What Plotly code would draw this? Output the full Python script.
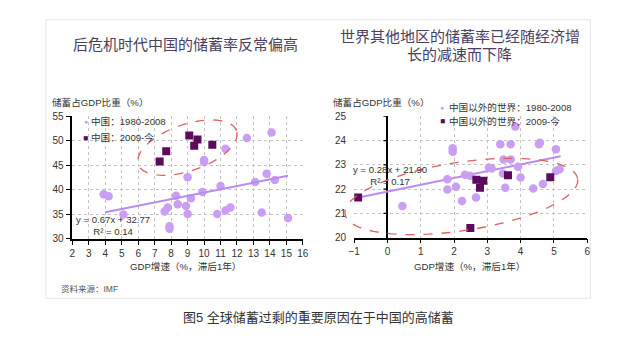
import numpy as np
import plotly.graph_objects as go

W, H = 620, 348

# ---------------- data ----------------
# Left: China
cn_old_x = [3.9, 4.2, 5.1, 7.6, 7.8, 7.9, 7.9, 8.3, 8.4, 8.9, 9.0, 9.0, 9.2, 9.9, 10.0, 10.0,
            10.8, 11.0, 11.3, 11.3, 11.6, 12.6, 13.1, 13.5, 13.8, 14.1, 14.3, 15.1]
cn_old_y = [39.1, 38.7, 35.0, 35.6, 36.4, 32.6, 32.1, 38.8, 37.1, 36.7, 35.1, 42.6, 38.3, 39.6, 46.1, 45.7,
            35.1, 40.8, 48.4, 35.8, 36.4, 50.6, 41.6, 35.4, 43.3, 51.7, 42.0, 34.3]
cn_new_x = [7.3, 7.7, 9.1, 9.6, 9.4, 10.5]
cn_new_y = [45.8, 47.9, 51.1, 50.3, 49.0, 49.2]
cn_slope, cn_intercept, cn_r2 = 0.67, 32.77, 0.14
cn_fit_x = [4.0, 15.1]

# Right: world ex-China
w_old_x = [0.45, 1.8, 1.8, 1.96, 1.96, 2.06, 2.24, 2.33, 2.49, 2.66, 3.05, 3.13, 3.39, 3.49, 3.54,
           3.47, 3.70, 3.70, 3.84, 3.92, 4.0, 4.38, 4.55, 4.58, 4.67, 5.06, 5.06, 5.17]
w_old_y = [21.31, 22.41, 21.99, 23.69, 23.54, 22.10, 21.51, 22.59, 22.55, 21.66, 22.89, 22.85, 23.85, 23.22, 22.06,
           22.65, 23.85, 23.22, 24.58, 22.92, 22.48, 22.03, 23.85, 23.91, 22.21, 23.65, 22.75, 22.82]
w_new_x = [-0.88, 2.67, 2.88, 2.78, 3.62, 4.89, 2.49]
w_new_y = [21.66, 22.39, 22.35, 22.06, 22.57, 22.49, 20.40]
w_slope, w_intercept, w_r2 = 0.28, 21.90, 0.17
w_fit_x = [-0.9, 5.2]

left_xticks = list(range(2, 17))
left_yticks = [30, 35, 40, 45, 50, 55]
right_xticks = list(range(-1, 7))
right_yticks = [20, 21, 22, 23, 24, 25]

cn_series_names = ["中国：1980-2008", "中国：2009-今"]
w_series_names = ["中国以外的世界：1980-2008", "中国以外的世界：2009-今"]

# ---------------- styles ----------------
LIGHT = "#c99ef3"
DARK = "#5b0a5e"
FIT = "#b98bf0"
RED = "#e06060"
TXT = "#333333"
TITLE = "#4b3e5e"
FONT = "Liberation Sans, Noto Sans CJK SC, sans-serif"
SMALL = 9.6


def px_x(p):
    return p / W


def px_y(p):
    return (H - p) / H


L_DX = [px_x(67.7), px_x(302.7)]
L_DY = [px_y(241.3), px_y(114.3)]
R_DX = [px_x(355), px_x(592.7)]
R_DY = [px_y(240), px_y(114.3)]
L_XR, L_YR = [2, 16], [30, 55]
R_XR, R_YR = [-1, 6], [20, 25]

fig = go.Figure()

fig.add_trace(go.Scatter(x=cn_old_x, y=cn_old_y, mode="markers", name=cn_series_names[0],
                         marker=dict(symbol="circle", size=8.5, color=LIGHT), xaxis="x", yaxis="y"))
fig.add_trace(go.Scatter(x=cn_new_x, y=cn_new_y, mode="markers", name=cn_series_names[1],
                         marker=dict(symbol="square", size=8, color=DARK), xaxis="x", yaxis="y"))
fig.add_trace(go.Scatter(x=cn_fit_x, y=[cn_slope * v + cn_intercept for v in cn_fit_x], mode="lines",
                         line=dict(color=FIT, width=2), xaxis="x", yaxis="y"))

fig.add_trace(go.Scatter(x=w_fit_x, y=[w_slope * v + w_intercept for v in w_fit_x], mode="lines",
                         line=dict(color=FIT, width=2), xaxis="x2", yaxis="y2"))
fig.add_trace(go.Scatter(x=w_old_x, y=w_old_y, mode="markers", name=w_series_names[0],
                         marker=dict(symbol="circle", size=8.5, color=LIGHT), xaxis="x2", yaxis="y2"))
fig.add_trace(go.Scatter(x=w_new_x, y=w_new_y, mode="markers", name=w_series_names[1],
                         marker=dict(symbol="square", size=8, color=DARK), xaxis="x2", yaxis="y2"))

axis_common = dict(showgrid=True, gridcolor="#c4c4c4", griddash="dot", gridwidth=1,
                   tickfont=dict(size=10, color=TXT, family=FONT), zeroline=False)

fig.update_layout(
    width=W, height=H, margin=dict(l=0, r=0, t=0, b=0),
    paper_bgcolor="white", plot_bgcolor="white", showlegend=False,
    font=dict(family=FONT, color=TXT),
    xaxis=dict(domain=L_DX, range=L_XR, tickvals=left_xticks, anchor="y", showline=True,
               linecolor="black", linewidth=1.5, ticks="outside", ticklen=4, tickcolor="black", **axis_common),
    yaxis=dict(domain=L_DY, range=L_YR, tickvals=left_yticks, anchor="x", showline=True,
               linecolor="black", linewidth=1.5, ticks="outside", ticklen=5, tickcolor="black", **axis_common),
    xaxis2=dict(domain=R_DX, range=R_XR, tickvals=right_xticks, anchor="y2", showline=True,
                linecolor="black", linewidth=1.5, ticks="outside", ticklen=4, tickcolor="black",
                **{**axis_common, "zeroline": True}, zerolinecolor="black", zerolinewidth=1.5),
    yaxis2=dict(domain=R_DY, range=R_YR, tickvals=right_yticks, anchor="x2", showline=False,
                ticks="outside", ticklen=5, tickcolor="rgba(0,0,0,0)", **axis_common),
)


def ellipse_path(cx, cy, a_px, b_px, ang_deg, dx, dy, xr, yr):
    sx = (dx[1] - dx[0]) * W / (xr[1] - xr[0])
    sy = (dy[1] - dy[0]) * H / (yr[1] - yr[0])
    th = np.radians(ang_deg)
    t = np.linspace(0, 2 * np.pi, 90)
    ex = a_px * np.cos(t) * np.cos(th) - b_px * np.sin(t) * np.sin(th)
    ey = a_px * np.cos(t) * np.sin(th) + b_px * np.sin(t) * np.cos(th)
    xs = cx + ex / sx
    ys = cy + ey / sy
    pxs = dx[0] + (xs - xr[0]) / (xr[1] - xr[0]) * (dx[1] - dx[0])
    pys = dy[0] + (ys - yr[0]) / (yr[1] - yr[0]) * (dy[1] - dy[0])
    return "M " + " L ".join(f"{u:.5f},{v:.5f}" for u, v in zip(pxs, pys)) + " Z"


# ellipse parameters: centre in data units, semi-axes in pixels, tilt in degrees
L_ELL = dict(cx=8.99, cy=48.62, a_px=53, b_px=24, ang_deg=19.4)
R_ELL = dict(cx=2.22, cy=21.70, a_px=120, b_px=35.4, ang_deg=8.8)

shapes = [
    dict(type="rect", xref="paper", yref="paper", x0=px_x(40.7), x1=px_x(596), y0=px_y(302.7), y1=px_y(14.3),
         line=dict(color="#e6e6e6", width=1), layer="below"),
    dict(type="path", xref="paper", yref="paper",
         path=ellipse_path(**L_ELL, dx=L_DX, dy=L_DY, xr=L_XR, yr=L_YR),
         line=dict(color=RED, width=1.3, dash="dash")),
    dict(type="path", xref="paper", yref="paper",
         path=ellipse_path(**R_ELL, dx=R_DX, dy=R_DY, xr=R_XR, yr=R_YR),
         line=dict(color=RED, width=1.3, dash="dash")),
]
for v in right_yticks[1:]:
    shapes.append(dict(type="line", xref="x2", yref="y2", xsizemode="pixel", xanchor=0, x0=-4, x1=0,
                       y0=v, y1=v, line=dict(color="black", width=1.2)))
fig.update_layout(shapes=shapes)


def ann(text, x, y, size=SMALL, color=TXT, xanchor="center", **kw):
    fig.add_annotation(text=text, x=px_x(x), y=px_y(y), xref="paper", yref="paper", showarrow=False,
                       xanchor=xanchor, yanchor="middle", font=dict(size=size, color=color, family=FONT),
                       borderpad=0, **kw)


# titles
ann("后危机时代中国的储蓄率反常偏高", 183, 40, size=15, color=TITLE)
ann("世界其他地区的储蓄率已经随经济增", 463, 32, size=15, color=TITLE)
ann("长的减速而下降", 462, 50, size=15, color=TITLE)
# axis titles
ann("储蓄占GDP比重（%）", 45.7, 100, xanchor="left")
ann("储蓄占GDP比重（%）", 332.7, 100, xanchor="left")
ann("GDP增速（%，滞后1年）", 183.3, 270)
ann("GDP增速（%，滞后1年）", 472.3, 270)
# trend equations
ann(f"y = {cn_slope:.2f}x + {cn_intercept:.2f}<br>R² = {cn_r2:.2f}", 109, 227.7, align="center")
ann(f"y = {w_slope:.2f}x + {w_intercept:.2f}<br>R² = {w_r2:.2f}", 392, 175.3, align="center")
# legends (symbol + label)
ann("●", 81.5, 119.5, size=7, color=LIGHT)
ann(cn_series_names[0], 86, 119.5, xanchor="left")
ann("■", 81.5, 136.5, size=8.5, color=DARK)
ann(cn_series_names[1], 86, 136.5, xanchor="left")
ann("●", 445, 105, size=7, color=LIGHT)
ann(w_series_names[0], 451, 105, xanchor="left")
ann("■", 445, 119.5, size=8.5, color=DARK)
ann(w_series_names[1], 451, 119.5, xanchor="left")
# source and caption
ann("资料来源：IMF", 55, 293.3, size=8.5, color="#555555", xanchor="left")
ann("图5 全球储蓄过剩的重要原因在于中国的高储蓄", 318.3, 322.3, size=13, color="#333333")

fig.write_html("out.html")
